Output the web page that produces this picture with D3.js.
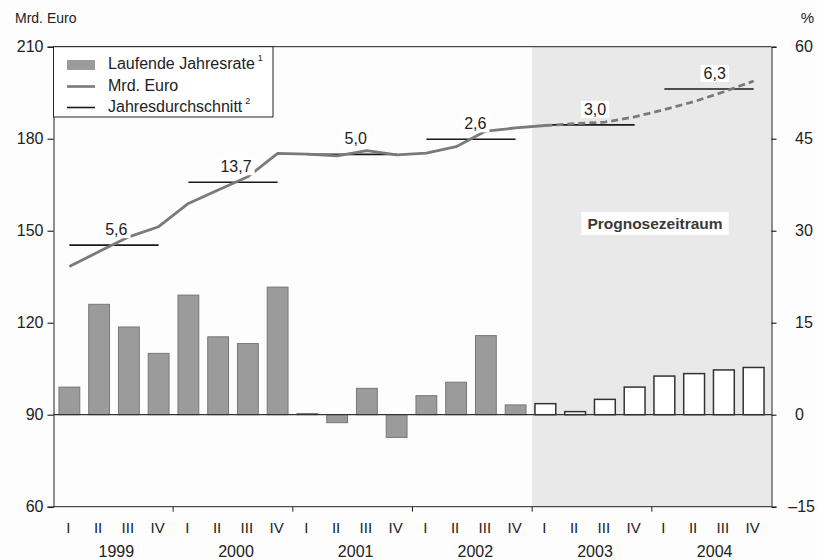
<!DOCTYPE html>
<html>
<head>
<meta charset="utf-8">
<script src="https://cdn.jsdelivr.net/npm/d3@7"></script>
<style>
  body { margin: 0; background: #fdfdfd; }
  svg text { font-family: "Liberation Sans", Arial, sans-serif; fill: #222; }
</style>
</head>
<body>
<div id="chart"></div>
<script>
// data
var years = ["1999", "2000", "2001", "2002", "2003", "2004"];
var quarterNames = ["I", "II", "III", "IV"];
// laufende Jahresrate in % (right axis)
var rate = [4.5, 18.0, 14.3, 10.0, 19.5, 12.7, 11.6, 20.8,
            0.2, -1.3, 4.3, -3.7, 3.1, 5.3, 12.9, 1.6,
            1.8, 0.5, 2.5, 4.5, 6.3, 6.7, 7.3, 7.7];
// Mrd. Euro (left axis)
var mrdEuro = [138.3, 143.2, 148.0, 151.3, 158.9, 163.3, 167.6, 175.2,
               175.0, 174.4, 176.1, 174.7, 175.3, 177.4, 182.5, 183.5,
               184.3, 184.9, 185.4, 187.1, 189.5, 192.1, 195.3, 198.8];
// Jahresdurchschnitt (Mrd. Euro) and its growth label
var yearAvg = [145.3, 165.8, 174.9, 179.8, 184.5, 196.2];
var avgLabels = ["5,6", "13,7", "5,0", "2,6", "3,0", "6,3"];
var leftTicks = [60, 90, 120, 150, 180, 210];
var rightTicks = [-15, 0, 15, 30, 45, 60];
var forecastFrom = 16;   // first quarter of the forecast (2003 I)
var dashFrom = 16;       // line turns dashed here

var width = 817, height = 560;
var plotLeft = 53.5, plotRight = 771.5, plotTop = 46.7, plotBottom = 506.7;

var svg = d3.select("#chart").append("svg")
    .attr("width", width)
    .attr("height", height);

var idx = d3.range(rate.length);

var x = d3.scaleBand()
    .domain(idx)
    .range([54.5, 768.5])
    .paddingInner(0.3)
    .paddingOuter(0.15);

var xYear = d3.scaleLinear()
    .domain([0, years.length])
    .range([plotLeft, plotRight]);

var yL = d3.scaleLinear().domain([60, 210]).range([plotBottom, plotTop]);
var yR = d3.scaleLinear().domain([-15, 60]).range([plotBottom, plotTop]);

function cx(i) { return x(i) + x.bandwidth() / 2; }

// forecast shading
svg.append("rect")
    .attr("x", xYear(4))
    .attr("y", plotTop)
    .attr("width", plotRight - xYear(4))
    .attr("height", plotBottom - plotTop)
    .style("fill", "#e9e9e9");

// bars
svg.append("g").selectAll("rect")
    .data(idx)
    .enter().append("rect")
    .attr("x", function(i) { return x(i); })
    .attr("width", x.bandwidth())
    .attr("y", function(i) { return yR(Math.max(0, rate[i])); })
    .attr("height", function(i) { return Math.abs(yR(rate[i]) - yR(0)); })
    .style("fill", function(i) { return i >= forecastFrom ? "#ffffff" : "#9b9b9b"; })
    .style("stroke", function(i) { return i >= forecastFrom ? "#333" : "#777"; })
    .style("stroke-width", function(i) { return i >= forecastFrom ? 1.5 : 1; });

// zero line
svg.append("line")
    .attr("x1", plotLeft).attr("x2", plotRight)
    .attr("y1", yR(0)).attr("y2", yR(0))
    .style("stroke", "#333")
    .style("stroke-width", 1.2);

// frame top / bottom
svg.append("line")
    .attr("x1", plotLeft).attr("x2", plotRight)
    .attr("y1", plotTop).attr("y2", plotTop)
    .style("stroke", "#222");
svg.append("line")
    .attr("x1", plotLeft).attr("x2", plotRight)
    .attr("y1", plotBottom).attr("y2", plotBottom)
    .style("stroke", "#222");

// Jahresdurchschnitt lines
svg.append("g").selectAll("line")
    .data(yearAvg)
    .enter().append("line")
    .attr("x1", function(d, k) { return cx(k * 4); })
    .attr("x2", function(d, k) { return cx(k * 4 + 3); })
    .attr("y1", function(d) { return yL(d); })
    .attr("y2", function(d) { return yL(d); })
    .style("stroke", "#1a1a1a")
    .style("stroke-width", 1.6);

// Mrd. Euro line, solid then dashed
var line = d3.line()
    .x(function(i) { return cx(i); })
    .y(function(i) { return yL(mrdEuro[i]); });

svg.append("path")
    .attr("d", line(idx.slice(0, dashFrom + 1)))
    .style("fill", "none")
    .style("stroke", "#7a7a7a")
    .style("stroke-width", 2.8)
    .style("stroke-linejoin", "round");

svg.append("path")
    .attr("d", line(idx.slice(dashFrom)))
    .style("fill", "none")
    .style("stroke", "#7a7a7a")
    .style("stroke-width", 2.8)
    .style("stroke-dasharray", "7,4");

// growth labels with white boxes
var lab = svg.append("g").selectAll("g")
    .data(avgLabels)
    .enter().append("g");
lab.append("rect").style("fill", "#fff");
lab.append("text")
    .attr("x", function(d, k) { return xYear(k + 0.5) + 3; })
    .attr("y", function(d, k) { return yL(yearAvg[k]) - 10; })
    .attr("text-anchor", "middle")
    .style("font-size", "16px")
    .text(function(d) { return d; });
lab.each(function() {
    var g = d3.select(this);
    var b = g.select("text").node().getBBox();
    g.select("rect")
        .attr("x", b.x - 3).attr("y", b.y)
        .attr("width", b.width + 6).attr("height", b.height);
});

// Prognosezeitraum label
var prog = svg.append("g");
var progText = prog.append("text")
    .attr("x", 655)
    .attr("y", 229)
    .attr("text-anchor", "middle")
    .style("font-size", "15.5px")
    .style("font-weight", "bold")
    .style("fill", "#3a3a3a")
    .text("Prognosezeitraum");
var pb = progText.node().getBBox();
prog.insert("rect", "text")
    .attr("x", pb.x - 6).attr("y", pb.y - 3)
    .attr("width", pb.width + 12).attr("height", pb.height + 6)
    .style("fill", "#fff");

// left axis
var leftAxis = svg.append("g")
    .attr("transform", "translate(" + plotLeft + ",0)")
    .call(d3.axisLeft(yL).tickValues(leftTicks).tickSize(6).tickPadding(4));
leftAxis.select(".domain").style("stroke", "#222");
leftAxis.selectAll("text").style("font-size", "16px").style("font-family", "Liberation Sans");

// right axis
var rightAxis = svg.append("g")
    .attr("transform", "translate(" + plotRight + ",0)")
    .call(d3.axisRight(yR).tickValues(rightTicks).tickSize(5)
        .tickFormat(function(d) { return d < 0 ? "\u2013" + Math.abs(d) : d; }));
rightAxis.select(".domain").style("stroke", "#222");
rightAxis.selectAll("text")
    .style("font-size", "16px").style("font-family", "Liberation Sans")
    .attr("x", function(d) { return d < 0 ? 43.5 : 23.5; })
    .attr("text-anchor", function(d) { return d < 0 ? "end" : "start"; });

// year ticks on bottom
svg.append("g").selectAll("line")
    .data(d3.range(1, years.length))
    .enter().append("line")
    .attr("x1", function(k) { return xYear(k); })
    .attr("x2", function(k) { return xYear(k); })
    .attr("y1", plotBottom)
    .attr("y2", plotBottom + 5)
    .style("stroke", "#222");

// quarter labels
svg.append("g").selectAll("text")
    .data(idx)
    .enter().append("text")
    .attr("x", function(i) { return cx(i) - 1; })
    .attr("y", 533)
    .attr("text-anchor", "middle")
    .style("font-size", "15px")
    .text(function(i) { return quarterNames[i % 4]; });

// year labels
svg.append("g").selectAll("text")
    .data(years)
    .enter().append("text")
    .attr("x", function(d, k) { return xYear(k + 0.5) + 3; })
    .attr("y", 557)
    .attr("text-anchor", "middle")
    .style("font-size", "16px")
    .text(function(d) { return d; });

// axis titles
svg.append("text")
    .attr("x", 15).attr("y", 23)
    .style("font-size", "14px")
    .text("Mrd. Euro");
svg.append("text")
    .attr("x", 814).attr("y", 23)
    .attr("text-anchor", "end")
    .style("font-size", "15px")
    .text("%");

// legend
var legend = svg.append("g");
legend.append("rect")
    .attr("x", plotLeft).attr("y", plotTop)
    .attr("width", 273 - plotLeft).attr("height", 117 - plotTop)
    .style("fill", "#fff")
    .style("stroke", "#222");
legend.append("rect")
    .attr("x", 67).attr("y", 60)
    .attr("width", 28).attr("height", 10)
    .style("fill", "#9b9b9b");
legend.append("line")
    .attr("x1", 67).attr("x2", 95).attr("y1", 86.5).attr("y2", 86.5)
    .style("stroke", "#7a7a7a").style("stroke-width", 2.6);
legend.append("line")
    .attr("x1", 67).attr("x2", 95).attr("y1", 107.5).attr("y2", 107.5)
    .style("stroke", "#1a1a1a").style("stroke-width", 1.6);

var legendItems = [["Laufende Jahresrate", "1", 69], ["Mrd. Euro", "", 91], ["Jahresdurchschnitt", "2", 112]];
legendItems.forEach(function(it) {
    var t = legend.append("text")
        .attr("x", 108).attr("y", it[2])
        .style("font-size", "16px")
        .text(it[0]);
    if (it[1]) {
        t.append("tspan")
            .attr("dx", 3).attr("dy", -8)
            .style("font-size", "9px")
            .text(it[1]);
    }
});
</script>
</body>
</html>
